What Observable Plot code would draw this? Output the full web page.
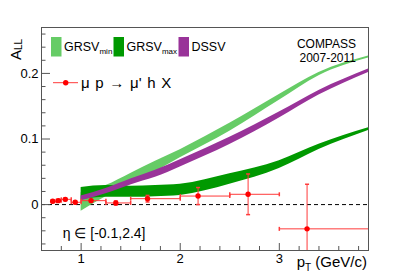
<!DOCTYPE html>
<html><head><meta charset="utf-8">
<script src="https://cdn.jsdelivr.net/npm/d3@7"></script>
<script src="https://cdn.jsdelivr.net/npm/@observablehq/plot@0.6"></script>
<style>body{margin:0;background:#fff} #chart{width:409px;height:278px}</style>
</head><body><div id="chart"></div>
<script>
// ---- data ----
const binLo = [0.7, 0.75, 0.8, 0.9, 1.0, 1.25, 1.5, 2.0, 2.5, 3.0];
const binHi = [0.75, 0.8, 0.9, 1.0, 1.25, 1.5, 2.0, 2.5, 3.0, 4.0];
const ptX   = [0.713, 0.77, 0.84, 0.94, 1.10, 1.35, 1.67, 2.18, 2.685, 3.28];
const ptY   = [0.005, 0.006, 0.008, 0.0035, 0.006, 0.0025, 0.009, 0.013, 0.0157, -0.037];
const ptErr = [0.002, 0.002, 0.002, 0.002, 0.002, 0.003, 0.005, 0.013, 0.031, 0.068];

const bandX  = [1.0, 1.25, 1.5, 1.75, 2.0, 2.5, 3.0, 3.4, 3.9];
const minLo  = [-0.010, 0.012, 0.0305, 0.050, 0.0713, 0.112, 0.159, 0.1965, 0.2235];
const minHi  = [0.018, 0.029, 0.0475, 0.066, 0.0838, 0.124, 0.168, 0.2015, 0.2265];
const maxLo  = [0.0076, 0.011, 0.011, 0.012, 0.014, 0.031, 0.055, 0.084, 0.113];
const maxHi  = [0.026, 0.029, 0.028, 0.029, 0.031, 0.047, 0.067, 0.092, 0.117];
const dssvLo = [0.006, 0.0165, 0.030, 0.0415, 0.0575, 0.0915, 0.132, 0.167, 0.2015];
const dssvHi = [0.013, 0.0245, 0.039, 0.0525, 0.0685, 0.1025, 0.141, 0.174, 0.2067];

const yMajor = [0, 0.1, 0.2];
const yTickLabels = ["0", "0.1", "0.2"];
const yMinor = [-0.06, -0.04, -0.02, 0.02, 0.04, 0.06, 0.08, 0.12, 0.14, 0.16, 0.18, 0.22, 0.24, 0.26];
const xMajor = [1, 2, 3];
const xTickLabels = ["1", "2", "3"];
const xMinor = [0.8, 1.2, 1.4, 1.6, 1.8, 2.2, 2.4, 2.6, 2.8, 3.2, 3.4, 3.6, 3.8];

// ---- tables ----
const rows = ptX.map((x, i) => ({x, y: ptY[i], lo: binLo[i], hi: binHi[i], err: ptErr[i]}));
const band = (lo, hi) => bandX.map((x, i) => ({x, lo: lo[i], hi: hi[i]}));

const vbar = {draw(ctx, size) { const h = Math.sqrt(size / Math.PI); ctx.moveTo(0, -h); ctx.lineTo(0, h); }};
const hbar = {draw(ctx, size) { const h = Math.sqrt(size / Math.PI); ctx.moveTo(-h, 0); ctx.lineTo(h, 0); }};

const RED = "#ff3a3a";
const FONT = "'Liberation Sans', Arial, Helvetica, sans-serif";

const plot = Plot.plot({
  width: 409, height: 278,
  marginLeft: 41, marginRight: 41, marginTop: 27, marginBottom: 28,
  x: {domain: [0.6, 3.9]},
  y: {domain: [-0.07, 0.27]},
  style: {fontFamily: FONT, fontSize: "13px", color: "black", background: "white"},
  marks: [
    Plot.ruleY([0], {stroke: "black", strokeDasharray: "4,3", strokeWidth: 1}),
    Plot.areaY(band(minLo, minHi), {x: "x", y1: "lo", y2: "hi", fill: "#66cc66", curve: "monotone-x"}),
    Plot.areaY(band(maxLo, maxHi), {x: "x", y1: "lo", y2: "hi", fill: "#009900", curve: "monotone-x"}),
    Plot.areaY(band(dssvLo, dssvHi), {x: "x", y1: "lo", y2: "hi", fill: "#993399", curve: "monotone-x"}),
    Plot.link(rows, {x1: "lo", x2: "hi", y1: "y", y2: "y", stroke: RED, strokeWidth: 1, clip: true}),
    Plot.link(rows, {x1: "x", x2: "x", y1: d => d.y - d.err, y2: d => d.y + d.err, stroke: RED, strokeWidth: 1, clip: true}),
    Plot.dot(rows, {x: "lo", y: "y", symbol: vbar, r: 2, stroke: RED, fill: "none", clip: true}),
    Plot.dot(rows, {x: "hi", y: "y", symbol: vbar, r: 2, stroke: RED, fill: "none", clip: true}),
    Plot.dot(rows, {x: "x", y: d => d.y - d.err, symbol: hbar, r: 2, stroke: RED, fill: "none", clip: true}),
    Plot.dot(rows, {x: "x", y: d => d.y + d.err, symbol: hbar, r: 2, stroke: RED, fill: "none", clip: true}),
    Plot.dot(rows, {x: "x", y: "y", r: 2.7, fill: "red", stroke: "none"}),
    Plot.frame({stroke: "#555"}),
    Plot.axisY(yMajor, {tickSize: 0, tickPadding: 3, tickFormat: d => yTickLabels[yMajor.indexOf(d)], label: null, fontSize: 13}),
    Plot.axisY(yMajor, {tickSize: -9, stroke: "#555", fill: "none", label: null}),
    Plot.axisY(yMinor, {tickSize: -4.5, stroke: "#555", fill: "none", label: null}),
    Plot.axisX(xMajor, {tickSize: 0, tickPadding: 3, tickFormat: d => xTickLabels[xMajor.indexOf(d)], label: null, fontSize: 13}),
    Plot.axisX(xMajor, {tickSize: -7, stroke: "#555", fill: "none", label: null}),
    Plot.axisX(xMinor, {tickSize: -4, stroke: "#555", fill: "none", label: null})
  ]
});
document.getElementById("chart").appendChild(plot);

// ---- annotations ----
const svg = d3.select(plot);
const g = svg.append("g").attr("font-family", FONT).attr("fill", "black").attr("text-anchor", "start");

const yl = g.append("text").attr("transform", "translate(20.5,60) rotate(-90)").attr("font-size", 15);
yl.append("tspan").text("A");
yl.append("tspan").attr("font-size", 10).attr("dy", 1.5).text("LL");

const xl = g.append("text").attr("x", 367).attr("y", 267).attr("text-anchor", "end").attr("font-size", 15);
xl.append("tspan").text("p");
xl.append("tspan").attr("font-size", 10).attr("dy", 3.5).text("T");
xl.append("tspan").attr("dy", -3.5).text(" (GeV/c)");

const legend = [
  {x: 51, color: "#66cc66", label: "GRSV", sub: "min"},
  {x: 113.5, color: "#009900", label: "GRSV", sub: "max"},
  {x: 178.5, color: "#993399", label: "DSSV", sub: ""}
];
for (const l of legend) {
  g.append("rect").attr("x", l.x).attr("y", 37).attr("width", 10.5).attr("height", 19.5).attr("fill", l.color);
  const t = g.append("text").attr("x", l.x + 13).attr("y", 50.7).attr("font-size", 12.5);
  t.append("tspan").text(l.label);
  if (l.sub) t.append("tspan").attr("font-size", 8).attr("dy", 3.5).text(l.sub);
}

g.append("line").attr("x1", 53).attr("x2", 78).attr("y1", 82.7).attr("y2", 82.7).attr("stroke", RED);
g.append("circle").attr("cx", 65.7).attr("cy", 82.7).attr("r", 2.7).attr("fill", "red");
g.append("text").attr("x", 81).attr("y", 88.3).attr("font-size", 15).attr("word-spacing", 1.5).text("\u03bc p \u2192 \u03bc' h X");

g.append("text").attr("x", 356).attr("y", 48.3).attr("text-anchor", "end").attr("font-size", 12).text("COMPASS");
g.append("text").attr("x", 356).attr("y", 61.7).attr("text-anchor", "end").attr("font-size", 12).text("2007-2011");

g.append("text").attr("x", 62.7).attr("y", 238).attr("font-size", 14).text("\u03b7 \u2208 [-0.1,2.4]");
</script>
</body></html>
